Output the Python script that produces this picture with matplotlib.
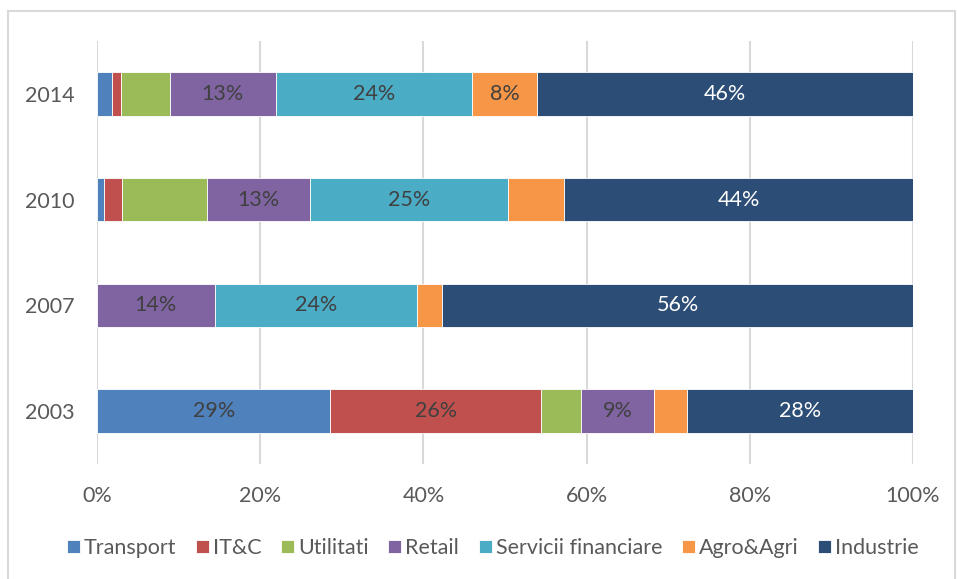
import numpy as np
import matplotlib.pyplot as plt
from matplotlib.patches import Rectangle

plt.rcParams['font.family'] = ['Lato', 'DejaVu Sans']

years = ["2003", "2007", "2010", "2014"]
sectors = ["Transport", "IT&C", "Utilitati", "Retail", "Servicii financiare",
           "Agro&Agri", "Industrie"]
colors = ["#4F81BD", "#C0504D", "#9BBB59", "#8064A2", "#4BACC6", "#F79646",
          "#2C4D75"]

# raw values per sector (order of years above), Excel normalises to 100%
transport = [28.6, 0.0, 0.9, 1.8]
itc = [25.8, 0.0, 2.2, 1.1]
utilitati = [4.9, 0.0, 10.8, 6.0]
retail = [9.0, 14.0, 13.0, 13.0]
servicii = [0.0, 24.0, 25.0, 24.0]
agro = [4.0, 3.0, 7.1, 8.0]
industrie = [27.7, 56.0, 44.0, 46.0]

# data labels shown in the chart (empty = no label)
labels = [
    ["29%", "", "", ""],
    ["26%", "", "", ""],
    ["", "", "", ""],
    ["9%", "14%", "13%", "13%"],
    ["", "24%", "25%", "24%"],
    ["", "", "", "8%"],
    ["28%", "56%", "44%", "46%"],
]

series = np.array([transport, itc, utilitati, retail, servicii, agro, industrie])
shares = series / series.sum(axis=0) * 100

fig = plt.figure(figsize=(9.57, 5.79), dpi=100)
ax = fig.add_axes([97/957, 1-464/579, (913-97)/957, (464-41)/579])

y = np.arange(len(years))
left = np.zeros(len(years))
for i, name in enumerate(sectors):
    ax.barh(y, shares[i], left=left, height=0.41, color=colors[i],
            edgecolor="white", linewidth=0.6, label=name, zorder=3)
    for j in range(len(years)):
        if labels[i][j]:
            tc = "white" if name == "Industrie" else "#404040"
            ax.text(left[j] + shares[i][j]/2, y[j], labels[i][j], ha="center",
                    va="center", fontsize=15.5, color=tc, zorder=4)
    left += shares[i]

ax.set_xlim(0, 100)
ax.set_ylim(-0.5, 3.5)
ax.set_xticks(np.arange(0, 101, 20))
ax.set_xticklabels(["%d%%" % v for v in range(0, 101, 20)])
ax.set_yticks(y)
ax.set_yticklabels(years)
ax.tick_params(length=0, labelsize=15.5, colors="#595959")
ax.tick_params(axis="x", pad=16)
ax.tick_params(axis="y", pad=16)
for s in ax.spines.values():
    s.set_visible(False)
ax.grid(axis="x", color="#D9D9D9", linewidth=1.5, zorder=0)

leg = fig.legend(loc="center", bbox_to_anchor=(0.515, 1-548/579), ncol=7,
                 frameon=False, fontsize=15.5, handlelength=0.6,
                 handleheight=0.6, handletextpad=0.2, columnspacing=0.9)
for t in leg.get_texts():
    t.set_color("#595959")

fig.patches.append(Rectangle((8/957, -0.05), (955-8)/957, 1.05-11/579,
                             transform=fig.transFigure, fill=False,
                             edgecolor="#D9D9D9", linewidth=1.5))

fig.savefig("out.png", dpi=100)
